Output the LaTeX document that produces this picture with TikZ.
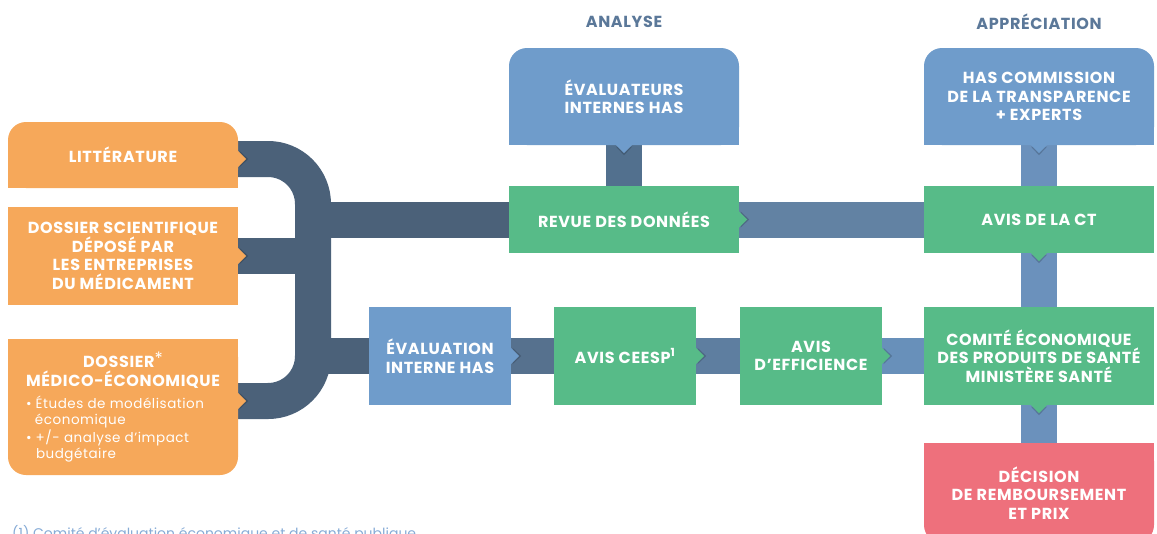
\documentclass[tikz,border=0pt]{standalone}
\usepackage{fontspec}
\setmainfont{Poppins}
\newfontfamily\boxfont[LetterSpace=4]{Poppins}
\usetikzlibrary{backgrounds}
\definecolor{obox}{HTML}{F6A85A}
\definecolor{bbox}{HTML}{6F9CCB}
\definecolor{gbox}{HTML}{57BB88}
\definecolor{rbox}{HTML}{EE707C}
\definecolor{bandA}{HTML}{4B6179}
\definecolor{stubA}{HTML}{52708E}
\definecolor{bandB}{HTML}{6282A3}
\definecolor{bandC}{HTML}{6B91BC}
\definecolor{bandD}{HTML}{56718E}
\definecolor{bandE}{HTML}{5E7EA0}
\definecolor{bandF}{HTML}{6890BA}
\definecolor{headc}{HTML}{5B7899}
\definecolor{footc}{HTML}{86ABD6}
\newcommand{\notchR}[2]{%
  \fill[black,opacity=.18] ([shift={(1.5pt,8pt)}]#1) -- ([xshift=10pt]#1) -- ([shift={(1.5pt,-8pt)}]#1) -- cycle;
  \fill[#2] ([yshift=8pt]#1) -- ([xshift=8pt]#1) -- ([yshift=-8pt]#1) -- cycle;}
\newcommand{\notchD}[2]{%
  \fill[black,opacity=.18] ([shift={(-8pt,-1.5pt)}]#1) -- ([yshift=-10pt]#1) -- ([shift={(8pt,-1.5pt)}]#1) -- cycle;
  \fill[#2] ([xshift=-8pt]#1) -- ([yshift=-8pt]#1) -- ([xshift=8pt]#1) -- cycle;}

\begin{document}
\begin{tikzpicture}[x=1pt,y=-1pt,
    box/.style={text=white,font=\boxfont\bfseries\fontsize{16}{18.5}\selectfont,align=center,
      inner sep=0pt,minimum width=230pt},
    smallbox/.style={box,minimum width=142pt,minimum height=98pt},
    head/.style={text=headc,font=\boxfont\bfseries\fontsize{16}{18}\selectfont},
    band/.style={line width=36pt}]
  \useasboundingbox (0,0) rectangle (1157,533);
  \clip (0,0) rectangle (1157,533);
  \node[head] (analyse) at (624,22) {ANALYSE};
  \node[head] (apprec) at (1039,22) {APPRÉCIATION};
  \node[box,fill=obox,rounded corners=18pt,minimum height=66pt] (lit) at (123,155) {LITTÉRATURE};
  \node[box,fill=obox,minimum height=98pt] (dsci) at (123,256)
    {DOSSIER SCIENTIFIQUE\\DÉPOSÉ PAR\\LES ENTREPRISES\\DU MÉDICAMENT};
  \node[box,fill=obox,rounded corners=18pt,minimum height=136pt] (dmed) at (123,407)
    {DOSSIER{\mdseries\fontsize{17}{17}\selectfont\raisebox{3pt}{*}}\\MÉDICO-ÉCONOMIQUE\\[4pt]
     \parbox[t]{194pt}{\raggedright\mdseries\fontsize{13.5}{16.2}\selectfont
       • Études de modélisation\\\hspace*{9pt}économique\\• +/- analyse d’impact\\\hspace*{10pt}budgétaire}};
  \node[box,fill=bbox,rounded corners=18pt,minimum height=97pt] (evalint) at (624,96.5)
    {ÉVALUATEURS\\INTERNES HAS};
  \node[box,fill=gbox,minimum height=67pt] (revue) at (624,219.5) {REVUE DES DONNÉES};
  \node[box,fill=bbox,rounded corners=18pt,minimum height=97pt] (hasct) at (1039,96.5)
    {HAS COMMISSION\\DE LA TRANSPARENCE\\+ EXPERTS};
  \node[box,fill=gbox,minimum height=67pt] (avisct) at (1039,219.5) {AVIS DE LA CT};
  \node[box,fill=gbox,minimum height=98pt] (ceps) at (1039,356)
    {COMITÉ ÉCONOMIQUE\\DES PRODUITS DE SANTÉ\\MINISTÈRE SANTÉ};
  \node[box,fill=rbox,rounded corners=18pt,minimum height=100pt] (decision) at (1039,493)
    {DÉCISION\\DE REMBOURSEMENT\\ET PRIX};
  \node[smallbox,fill=bbox] (evalhas) at (440,356) {ÉVALUATION\\INTERNE HAS};
  \node[smallbox,fill=gbox] (ceesp) at (625,356) {AVIS CEESP\textsuperscript{1}};
  \node[smallbox,fill=gbox] (effic) at (811,356) {AVIS\\D’EFFICIENCE};
  \node[text=footc,font=\fontsize{14}{16}\selectfont,anchor=base west,inner sep=0pt] (foot) at (12,538)
    {(1) Comité d’évaluation économique et de santé publique};
  \coordinate (litout) at ([yshift=-4pt]lit.east);
  \coordinate (medout) at ([yshift=6pt]dmed.east);
  \begin{pgfonlayer}{background}
    \fill[obox] (lit.west) rectangle (lit.south east);
    \fill[obox] (dmed.north west) rectangle (dmed.east);
    \fill[bbox] (evalint.west) rectangle (evalint.south east);
    \fill[bbox] (hasct.west) rectangle (hasct.south east);
    \fill[rbox] (decision.north west) rectangle (decision.east);
    \draw[band,bandA,rounded corners=45pt] (litout) -- (313,159) -- (313,401) -- (medout);
    \draw[band,bandA] (dsci.east) -- (313,256);
    \draw[band,bandA] (313,219.5) -- (revue.west);
    \draw[band,bandA] (313,356) -- (evalhas.west);
    \draw[band,stubA] (evalint.south) -- (revue.north);
    \draw[band,bandB] (revue.east) -- (avisct.west);
    \draw[band,bandC] (hasct.south) -- (avisct.north);
    \draw[band,bandC] (avisct.south) -- (ceps.north);
    \draw[band,bandC] (ceps.south) -- (decision.north);
    \draw[band,bandD] (evalhas.east) -- (ceesp.west);
    \draw[band,bandE] (ceesp.east) -- (effic.west);
    \draw[band,bandF] (effic.east) -- (ceps.west);
  \end{pgfonlayer}
  \notchR{litout}{obox}
  \notchR{dsci.east}{obox}
  \notchR{medout}{obox}
  \notchD{evalint.south}{bbox}
  \notchR{revue.east}{gbox}
  \notchD{hasct.south}{bbox}
  \notchD{avisct.south}{gbox}
  \notchR{evalhas.east}{bbox}
  \notchR{ceesp.east}{gbox}
  \notchR{effic.east}{gbox}
  \notchD{ceps.south}{gbox}
\end{tikzpicture}
\end{document}
